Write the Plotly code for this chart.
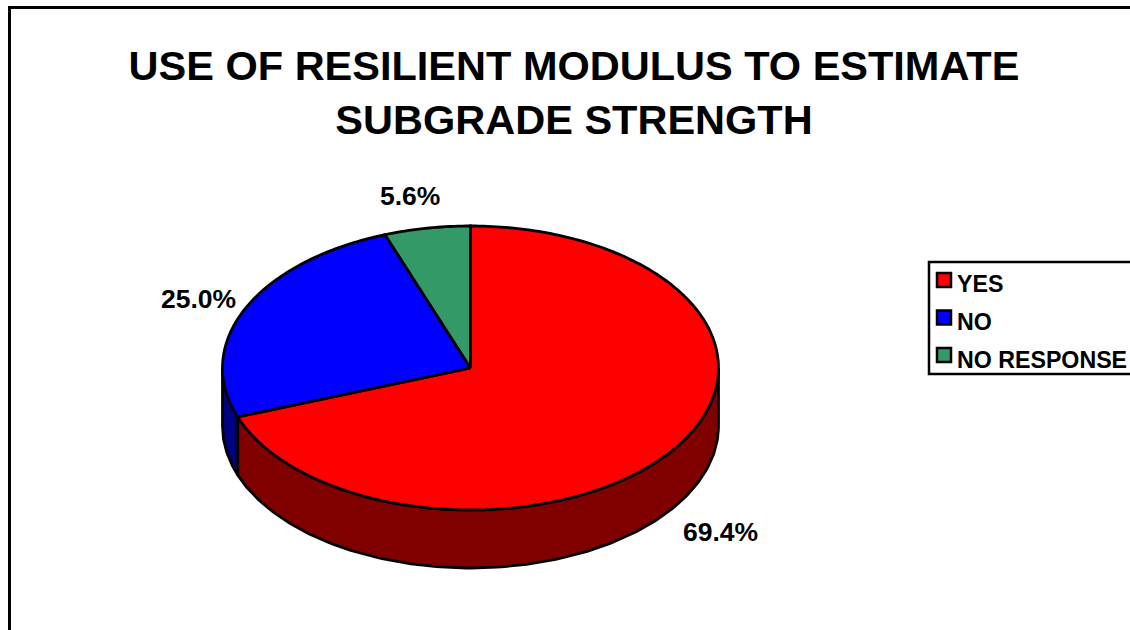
import numpy as np
import plotly.graph_objects as go

# Survey shares in percent
categories = ["YES", "NO", "NO RESPONSE"]
shares = [69.4, 25.0, 5.6]
top_colors = ["#ff0000", "#0000ff", "#339966"]
side_colors = ["#800000", "#000080", "#1a4d33"]
title_lines = ["USE OF RESILIENT MODULUS TO ESTIMATE", "SUBGRADE STRENGTH"]

W, H = 1130, 630
CX, CY = 470.5, 368.0   # pie centre on the page
RX, RY = 248.0, 142.0   # pixels per axis unit, horizontally and vertically
DEPTH = 58.0 / RY       # wall height in y-axis units
LW = 2.8
FONT = "Liberation Sans"


def arc(a0, a1, drop=0.0):
    """Points along the rim, angles clockwise from 12 o'clock in degrees."""
    n = max(2, int(abs(a1 - a0)) + 2)
    t = np.radians(np.linspace(a0, a1, n))
    return np.sin(t), np.cos(t) - drop


fig = go.Figure()

# Walls first, so the top face overlaps their upper edge
start = 0.0
edges = []
for share in shares:
    edges.append((start, start + share * 3.6))
    start += share * 3.6

for name, (a0, a1), col in zip(categories, edges, side_colors):
    lo, hi = max(a0, 90.0), min(a1, 270.0)
    if lo >= hi:
        continue
    xu, yu = arc(lo, hi)
    xd, yd = arc(hi, lo, DEPTH)
    fig.add_trace(go.Scatter(
        x=np.r_[xu, xd, xu[0]], y=np.r_[yu, yd, yu[0]],
        mode="lines", fill="toself", fillcolor=col,
        line=dict(color="black", width=LW),
        name=name + " side", showlegend=False, hoverinfo="skip",
    ))

# Top face wedges
for name, share, (a0, a1), col in zip(categories, shares, edges, top_colors):
    xa, ya = arc(a0, a1)
    fig.add_trace(go.Scatter(
        x=np.r_[0.0, xa, 0.0], y=np.r_[0.0, ya, 0.0],
        mode="lines", fill="toself", fillcolor=col,
        line=dict(color="black", width=LW, simplify=False),
        name=name, showlegend=False,
        hovertemplate=f"{name}: {share:.1f}%<extra></extra>",
    ))

# Value labels
label_pos = [(720, 532), (198, 299), (410, 196)]
annotations = []
for share, (px, py) in zip(shares, label_pos):
    annotations.append(dict(
        text=f"{share:.1f}%", x=px / W, y=1 - py / H, xref="paper", yref="paper",
        xanchor="center", yanchor="middle", showarrow=False,
        font=dict(family=FONT, size=26.5, color="black", weight=700),
    ))

# Legend box, swatches and entries
shapes = [
    dict(type="line", xref="paper", yref="paper", x0=9.5 / W, x1=1, y0=1 - 7.5 / H, y1=1 - 7.5 / H,
         line=dict(color="black", width=3)),
    dict(type="line", xref="paper", yref="paper", x0=9.5 / W, x1=9.5 / W, y0=0, y1=1 - 6 / H,
         line=dict(color="black", width=3)),
    dict(type="rect", xref="paper", yref="paper", x0=929 / W, x1=1132 / W, y0=1 - 374 / H, y1=1 - 262 / H,
         line=dict(color="black", width=2.5), fillcolor="white"),
]
for i, (name, col) in enumerate(zip(categories, top_colors)):
    yc = 280 + i * 37.5
    shapes.append(dict(type="rect", xref="paper", yref="paper",
                       x0=937 / W, x1=951 / W, y0=1 - (yc + 7) / H, y1=1 - (yc - 7) / H,
                       line=dict(color="black", width=2.5), fillcolor=col))
    annotations.append(dict(
        text=name, x=955 / W, y=1 - (yc + 4.5) / H, xref="paper", yref="paper",
        xanchor="left", yanchor="middle", showarrow=False,
        font=dict(family=FONT, size=23.2, color="black", weight=700),
    ))

fig.update_layout(
    width=W, height=H, margin=dict(l=0, r=0, t=0, b=0),
    paper_bgcolor="white", plot_bgcolor="white", showlegend=False,
    title=dict(
        text="<br>".join(title_lines), x=574 / W, xanchor="center", xref="paper",
        y=1 - 80 / H, yanchor="middle", yref="paper",
        font=dict(family=FONT, size=41.5, color="black", weight=700),
    ),
    xaxis=dict(range=[-CX / RX, (W - CX) / RX], visible=False, fixedrange=True),
    yaxis=dict(range=[-(H - CY) / RY, CY / RY], visible=False, fixedrange=True),
    shapes=shapes, annotations=annotations,
)

fig.write_html("out.html", config={"displayModeBar": False})
